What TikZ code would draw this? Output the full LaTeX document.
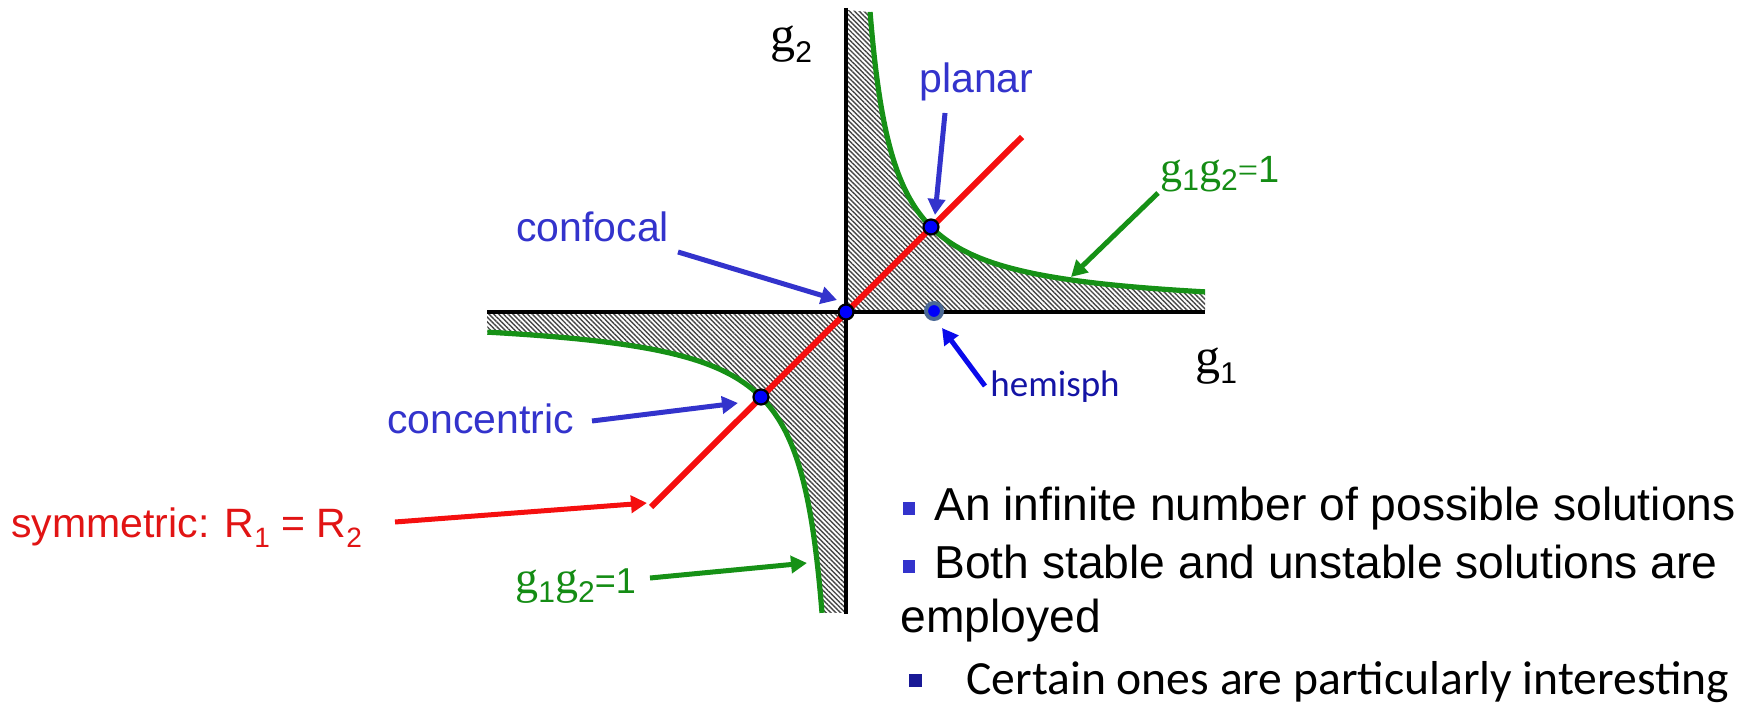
\documentclass[tikz,border=0pt]{standalone}
\usepackage{fontspec}
\setmainfont{Liberation Sans}
\newfontfamily\timesf{Liberation Serif}
\newfontfamily\calib{Carlito}
\usetikzlibrary{arrows.meta,patterns.meta}
\definecolor{lblue}{RGB}{51,51,204}
\definecolor{hblue}{RGB}{20,20,165}
\definecolor{harrow}{RGB}{10,10,235}
\definecolor{dotblue}{RGB}{0,0,250}
\definecolor{ringblue}{RGB}{75,105,150}
\definecolor{hgreen}{RGB}{22,145,22}
\definecolor{tgreen}{RGB}{20,140,20}
\definecolor{rline}{RGB}{245,15,15}
\definecolor{rtext}{RGB}{225,20,20}
\definecolor{hatchc}{RGB}{70,70,70}
\definecolor{bul}{RGB}{51,51,204}
\definecolor{bulb}{RGB}{25,25,150}
\newcommand{\gsubscr}[4]{{\fontsize{#1}{#1}\timesf g}\raisebox{-#3}{\fontsize{#2}{#2}\selectfont #4}}
\begin{document}
\begin{tikzpicture}[x=0.5pt,y=-0.5pt,
  hatch/.style={pattern={Lines[angle=-45,distance=1.7pt,line width=0.7pt]},pattern color=hatchc},
  axisline/.style={line width=2.4pt,black},
  hyp/.style={line width=2.6pt,hgreen},
  redl/.style={line width=3pt,rline},
  dot/.style={circle,inner sep=0pt,minimum size=7.5pt,fill=dotblue,draw=black,line width=1.1pt},
  hdot/.style={circle,inner sep=0pt,minimum size=8pt,fill=dotblue,draw=ringblue,line width=2pt},
  arr/.style={line width=2.5pt,-{Triangle[length=8pt,width=8.5pt]}},
  barrow/.style={arr,lblue},
  lbl/.style={inner sep=0pt,anchor=base west},
  bluelbl/.style={lbl,lblue,font=\fontsize{20.5}{24}\selectfont},
  greenlbl/.style={lbl,tgreen},
  bullet/.style={rectangle,inner sep=0pt,minimum width=6pt,minimum height=6.5pt,fill=bul},
  btext/.style={lbl,font=\fontsize{23.1}{27}\selectfont}
]
\useasboundingbox (0,0) rectangle (1755,705);
% hatched regions
\fill[hatch] (846,312) -- (846,10) -- plot[domain=-1.261:1.441,samples=120] ({846+85*exp(\x)},{312-85*exp(-\x)}) -- (1205,312) -- cycle;
\fill[hatch] (846,312) -- (846,613) -- plot[domain=-1.264:1.441,samples=120] ({846-85*exp(\x)},{312+85*exp(-\x)}) -- (487,312) -- cycle;
% axes
\draw[axisline] (487,312) -- (1205,312);
\draw[axisline] (846,8) -- (846,614);
% hyperbolas
\draw[hyp] plot[domain=-1.261:1.441,samples=120] ({846+85*exp(\x)},{312-85*exp(-\x)});
\draw[hyp] plot[domain=-1.264:1.441,samples=120] ({846-85*exp(\x)},{312+85*exp(-\x)});
% symmetric line
\coordinate (rlo) at (651,507);
\coordinate (rhi) at (1022,137);
\draw[redl] (rlo) -- (rhi);
% points
\node[dot] (conf) at (846,312) {};
\node[dot] (plan) at (931,227) {};
\node[dot] (conc) at (761,397) {};
\node[hdot] (hemi) at (934,311) {};
% labels
\node[bluelbl] (planarL) at (919,93) {planar};
\node[bluelbl] (confL) at (516,242) {confocal};
\node[bluelbl] (concL) at (387,433) {concentric};
\node[lbl,hblue,font=\calib\fontsize{18.5}{22}\selectfont] (hemiL) at (990,397) {hemisph};
\node[lbl,rtext,font=\fontsize{20.5}{24}\selectfont] (symL) at (11,537) {symmetric: R\raisebox{-5pt}{\fontsize{14}{14}\selectfont 1} = R\raisebox{-5pt}{\fontsize{14}{14}\selectfont 2}};
\node[greenlbl] (gLo) at (515,593) {\gsubscr{23pt}{15pt}{4.5pt}{1}\gsubscr{23pt}{15pt}{4.5pt}{2}{\fontsize{18}{18}\selectfont =1}};
\node[greenlbl] (gUp) at (1160,183) {\gsubscr{22pt}{15pt}{4pt}{1}\gsubscr{22pt}{15pt}{4pt}{2}{\fontsize{18}{18}\timesf =}{\fontsize{19}{19}\selectfont 1}};
\node[lbl] (g2L) at (770,52) {\gsubscr{25pt}{15pt}{5.5pt}{2}};
\node[lbl] (g1L) at (1195,373) {\gsubscr{25pt}{15pt}{5.5pt}{1}};
% arrows
\coordinate (plT) at (945,113); \coordinate (plH) at (935,215);
\draw[barrow] (plT) -- (plH);
\coordinate (cfT) at (678,252); \coordinate (cfH) at (837,300);
\draw[barrow] (cfT) -- (cfH);
\coordinate (ccT) at (592,421); \coordinate (ccH) at (738,403);
\draw[barrow] (ccT) -- (ccH);
\coordinate (syT) at (395,522); \coordinate (syH) at (647,503);
\draw[arr,rline] (syT) -- (syH);
\coordinate (glT) at (650,578); \coordinate (glH) at (807,563);
\draw[arr,hgreen] (glT) -- (glH);
\coordinate (guT) at (1158,193); \coordinate (guH) at (1071,277);
\draw[arr,hgreen] (guT) -- (guH);
\coordinate (hmT) at (985,386); \coordinate (hmH) at (942,328);
\draw[arr,harrow] (hmT) -- (hmH);
% bullet text
\node[bullet] (b1) at (909,508) {};
\node[btext] (t1) at (934,520) {An infinite number of possible solutions};
\node[bullet] (b2) at (909,566) {};
\node[btext] (t2) at (934,578) {Both stable and unstable solutions are};
\node[btext] (t3) at (900,632) {employed};
\node[bullet,fill=bulb,minimum width=6.5pt,minimum height=6.5pt] (b4) at (915,680) {};
\node[lbl,font=\calib\fontsize{23.8}{28}\selectfont] (t4) at (966,694) {Certain ones are particularly interesting};
\end{tikzpicture}
\end{document}
